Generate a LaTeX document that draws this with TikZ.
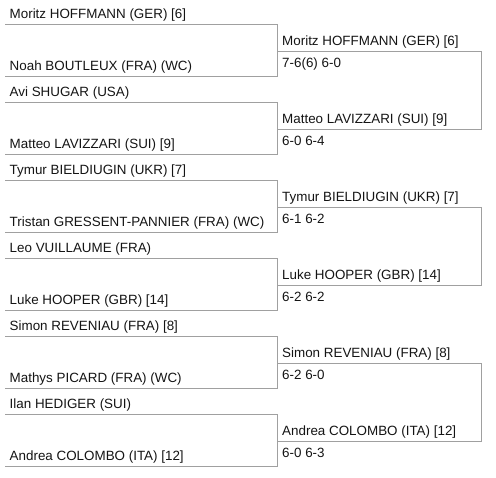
\documentclass[tikz,border=0pt]{standalone}
\usepackage{fontspec}
\setmainfont{Liberation Sans}
\definecolor{bracketgray}{RGB}{160,160,160}
\definecolor{nametext}{RGB}{20,20,20}
\tikzset{
  player/.style={anchor=base west, inner sep=0pt, text=nametext, font=\fontsize{13.4}{16}\selectfont},
  bracket/.style={bracketgray, line width=1pt}
}
\begin{document}
\begin{tikzpicture}[x=1pt, y=-1pt]
    \useasboundingbox (0, 0) rectangle (496, 478);
    % round 1, match 1
    \node[player] (p1) at (9.5, 18.7) {Moritz HOFFMANN (GER) [6]};
    \node[player] (p2) at (9.5, 71) {Noah BOUTLEUX (FRA) (WC)};
    \draw[bracket] (5, 24.5) -- (277, 24.5) -- (277, 77) -- (5, 77);
    % round 1, match 2
    \node[player] (p3) at (9.5, 96.7) {Avi SHUGAR (USA)};
    \node[player] (p4) at (9.5, 149) {Matteo LAVIZZARI (SUI) [9]};
    \draw[bracket] (5, 102.5) -- (277, 102.5) -- (277, 155) -- (5, 155);
    % round 1, match 3
    \node[player] (p5) at (9.5, 174.7) {Tymur BIELDIUGIN (UKR) [7]};
    \node[player] (p6) at (9.5, 227) {Tristan GRESSENT-PANNIER (FRA) (WC)};
    \draw[bracket] (5, 180.5) -- (277, 180.5) -- (277, 233) -- (5, 233);
    % round 1, match 4
    \node[player] (p7) at (9.5, 252.7) {Leo VUILLAUME (FRA)};
    \node[player] (p8) at (9.5, 305) {Luke HOOPER (GBR) [14]};
    \draw[bracket] (5, 258.5) -- (277, 258.5) -- (277, 311) -- (5, 311);
    % round 1, match 5
    \node[player] (p9) at (9.5, 330.7) {Simon REVENIAU (FRA) [8]};
    \node[player] (p10) at (9.5, 383) {Mathys PICARD (FRA) (WC)};
    \draw[bracket] (5, 336.5) -- (277, 336.5) -- (277, 389) -- (5, 389);
    % round 1, match 6
    \node[player] (p11) at (9.5, 408.7) {Ilan HEDIGER (SUI)};
    \node[player] (p12) at (9.5, 461) {Andrea COLOMBO (ITA) [12]};
    \draw[bracket] (5, 414.5) -- (277, 414.5) -- (277, 467) -- (5, 467);
    % round 2, match 1
    \node[player] (w1) at (282, 45.5) {Moritz HOFFMANN (GER) [6]};
    \node[player] (s1) at (282, 68) {7-6(6) 6-0};
    \node[player] (w2) at (282, 123.5) {Matteo LAVIZZARI (SUI) [9]};
    \node[player] (s2) at (282, 146) {6-0 6-4};
    \draw[bracket] (277, 51.5) -- (481, 51.5) -- (481, 129.5) -- (277, 129.5);
    % round 2, match 2
    \node[player] (w3) at (282, 201.5) {Tymur BIELDIUGIN (UKR) [7]};
    \node[player] (s3) at (282, 224) {6-1 6-2};
    \node[player] (w4) at (282, 279.5) {Luke HOOPER (GBR) [14]};
    \node[player] (s4) at (282, 302) {6-2 6-2};
    \draw[bracket] (277, 207.5) -- (481, 207.5) -- (481, 285.5) -- (277, 285.5);
    % round 2, match 3
    \node[player] (w5) at (282, 357.5) {Simon REVENIAU (FRA) [8]};
    \node[player] (s5) at (282, 380) {6-2 6-0};
    \node[player] (w6) at (282, 435.5) {Andrea COLOMBO (ITA) [12]};
    \node[player] (s6) at (282, 458) {6-0 6-3};
    \draw[bracket] (277, 363.5) -- (481, 363.5) -- (481, 441.5) -- (277, 441.5);
\end{tikzpicture}
\end{document}
